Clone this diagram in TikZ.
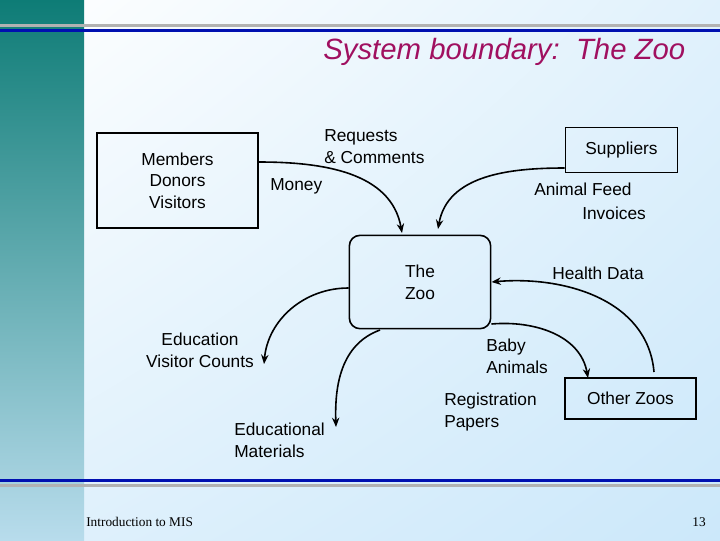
\documentclass[tikz,border=0pt]{standalone}
\usepackage{fontspec}
\setmainfont{Liberation Sans}
\newfontfamily\footfont{Liberation Serif}
\usetikzlibrary{arrows.meta, shadings}
\definecolor{titlered}{HTML}{A01060}
\definecolor{lineblue}{HTML}{0010B0}
\definecolor{stripA}{HTML}{0E7C76}
\definecolor{stripB}{HTML}{B8DCEC}
\definecolor{paleblue}{HTML}{CCE8FA}
\tikzset{
    flowbox/.style={draw, line width=1.2pt, minimum width=#1, align=center, font=\fontsize{13}{16.2}\selectfont},
    flow/.style={line width=1.2pt, -{Stealth[length=7pt, width=5.5pt]}},
    lbl/.style={align=left, font=\fontsize{13}{16.5}\selectfont, inner sep=0pt, anchor=north west}
}
\begin{document}
\begin{tikzpicture}[x=0.75pt, y=-0.75pt]
    \useasboundingbox (0,0) rectangle (720,540);
    \shade[upper left=white, lower right=paleblue, upper right=white!40!paleblue, lower left=white!40!paleblue] (0,0) rectangle (720,540);
    \shade[top color=stripA, bottom color=stripB] (0,0) rectangle (84,540);
    \fill[gray!60] (0,23.5) rectangle (720,26.5);
    \fill[lineblue] (0,28.5) rectangle (720,31.5);
    \fill[lineblue] (0,478.5) rectangle (720,481.5);
    \fill[gray!60] (0,483.5) rectangle (720,486.5);

    \node[anchor=east, text=titlered, font=\fontsize{22}{24}\itshape] (title) at (690,52) {System boundary:~~The Zoo};

    % entities
    \node[flowbox=121pt, minimum height=71pt] (members) at (177.5,180.5) {Members\\Donors\\Visitors};
    \node[flowbox=84pt, minimum height=34pt] (suppliers) at (621.5,150) {Suppliers};
    \node[flowbox=98pt, minimum height=31pt] (others) at (630.5,398.5) {Other Zoos};
    \node[flowbox=106pt, minimum height=70pt, rounded corners=8pt] (zoo) at (420,282) {The\\Zoo};

    % flows
    \draw[flow] (members.east |- 0,162) to[out=0, in=100] (402,233);
    \draw[flow] (suppliers.west |- 0,168) to[out=180, in=80] (438,229);
    \draw[flow] (654,372) to[out=95, in=5] (zoo.east |- 0,282);
    \draw[flow] (zoo.east |- 0,324) to[out=5, in=100] (588,378);
    \draw[flow] (zoo.west |- 0,288) to[out=180, in=85] (264,364);
    \draw[flow] (380,330) to[out=200, in=92] (336,427);

    % labels
    \node[lbl] (reqs) at (324,129) {Requests\\\& Comments};
    \node[lbl] (money) at (270,178) {Money};
    \node[lbl] (feed) at (534,183) {Animal Feed};
    \node[lbl] (invoices) at (582,207) {Invoices};
    \node[lbl] (health) at (552,267) {Health Data};
    \node[lbl, align=center, anchor=north] (educ) at (200,333) {Education\\Visitor Counts};
    \node[lbl] (baby) at (486,339) {Baby\\Animals};
    \node[lbl] (regist) at (444,393) {Registration\\Papers};
    \node[lbl] (materials) at (234,423) {Educational\\Materials};

    \node[anchor=west, font=\footfont\fontsize{10}{12}\selectfont, inner sep=0pt] (footer) at (86,522) {Introduction to MIS};
    \node[anchor=east, font=\footfont\fontsize{10}{12}\selectfont, inner sep=0pt] (page) at (706,522) {13};
\end{tikzpicture}
\end{document}
